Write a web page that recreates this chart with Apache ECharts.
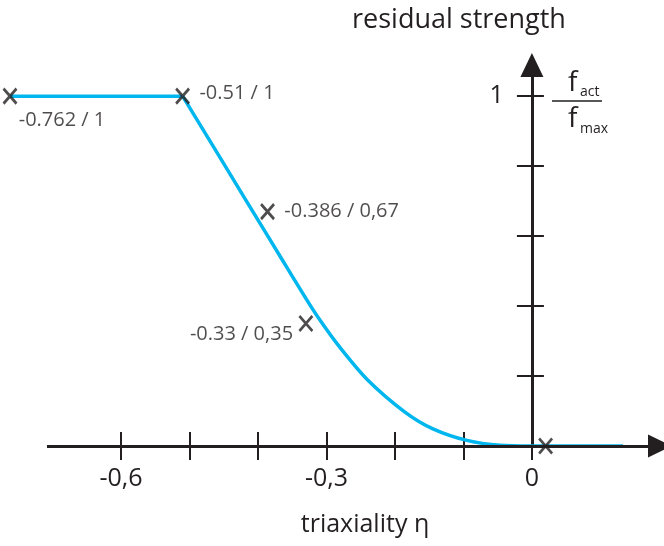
<!DOCTYPE html>
<html>
<head>
<meta charset="utf-8">
<script src="https://cdn.jsdelivr.net/npm/echarts@6/dist/echarts.min.js"></script>
<style>
  html, body { margin: 0; padding: 0; background: #ffffff; }
  #chart { width: 664px; height: 546px; }
</style>
</head>
<body>
<div id="chart"></div>
<script>
// Plateau of full residual strength
const plateauEta = [-0.762, -0.51];
const plateauStrength = [1, 1];

// Decreasing branch down to zero, then the flat tail on the η axis
const curveEta = [-0.51, -0.4657, -0.4161, -0.3679, -0.3285, -0.3095, -0.2832, -0.2409, -0.1854, -0.1445, -0.0949, -0.0467, 0, 0.133];
const curveStrength = [1, 0.858, 0.698, 0.543, 0.417, 0.360, 0.289, 0.191, 0.097, 0.049, 0.016, 0.002, 0, 0];

// Marked points with their annotations
const markerEta = [-0.762, -0.51, -0.386, -0.33, 0.02];
const markerStrength = [1, 1, 0.67, 0.35, 0];
const markerText = ['-0.762 / 1', '-0.51 / 1', '-0.386 / 0,67', '-0.33 / 0,35', ''];

// Axis ticks and labels
const xTicks = [-0.6, -0.5, -0.4, -0.3, -0.2, -0.1, 0];
const xTickLabels = [-0.6, -0.3, 0];
const yTicks = [0.2, 0.4, 0.6, 0.8, 1];
const yTickLabels = [1];

// Visible extent of the η axis line (start, end at the arrow)
const xAxisLineFrom = -0.708;
const xAxisLineTo = 0.187;

const ink = '#231f20';
const blue = '#00b6ee';
const font = 'Open Sans';

const toPairs = (xs, ys) => xs.map((x, i) => [x, ys[i]]);
const commaNumber = v => String(v).replace('.', ',');

// Label placement for each marker
const markerLabelStyle = [
  { position: 'inside', offset: [52, 24] },
  { position: 'right', distance: 9, offset: [0, -3] },
  { position: 'right', distance: 9, offset: [0, 0] },
  { position: 'left', distance: 5, offset: [0, 11] },
  { show: false }
];

const xRange = { min: -0.7766, max: 0.187 };
const yRange = { min: 0, max: 1.089 };

const tickStyle = { color: ink, width: 2 };

const chart = echarts.init(document.getElementById('chart'), null, { renderer: 'canvas' });

chart.setOption({
  animation: false,
  backgroundColor: '#ffffff',
  title: {
    text: 'residual strength',
    left: 347,
    top: 2,
    textStyle: { fontFamily: font, fontSize: 27, fontWeight: 'normal', color: ink }
  },
  grid: { left: 0, right: 4, top: 65, bottom: 100, containLabel: false },
  xAxis: [
    {
      type: 'value',
      position: 'bottom',
      min: xRange.min,
      max: xRange.max,
      name: 'triaxiality η',
      nameLocation: 'middle',
      nameGap: 66,
      nameTextStyle: { fontFamily: font, fontSize: 25, color: ink, padding: [0, 0, 0, 70] },
      axisLine: { show: false, onZero: true },
      axisTick: { show: true, inside: false, length: 14, customValues: xTicks, lineStyle: tickStyle },
      axisLabel: {
        show: true, customValues: xTickLabels, formatter: commaNumber,
        margin: 20, fontFamily: font, fontSize: 25, color: ink
      },
      splitLine: { show: false }
    },
    {
      type: 'value',
      position: 'bottom',
      min: xRange.min,
      max: xRange.max,
      axisLine: { show: false, onZero: true },
      axisTick: { show: true, inside: true, length: 14, customValues: xTicks, lineStyle: tickStyle },
      axisLabel: { show: false },
      splitLine: { show: false }
    }
  ],
  yAxis: [
    {
      type: 'value',
      position: 'left',
      min: yRange.min,
      max: yRange.max,
      axisLine: {
        show: true, onZero: true, onZeroAxisIndex: 0,
        symbol: ['none', 'triangle'], symbolSize: [23, 24],
        lineStyle: { color: ink, width: 3 }
      },
      axisTick: { show: true, inside: false, length: 15, customValues: yTicks, lineStyle: tickStyle },
      axisLabel: { show: false },
      splitLine: { show: false }
    },
    {
      type: 'value',
      position: 'left',
      min: yRange.min,
      max: yRange.max,
      axisLine: { show: false, onZero: true, onZeroAxisIndex: 0 },
      axisTick: { show: true, inside: true, length: 12, customValues: yTicks, lineStyle: tickStyle },
      axisLabel: { show: false },
      splitLine: { show: false }
    }
  ],
  graphic: [
    { type: 'text', left: 568, top: 69, style: { text: 'f', font: '28px "Open Sans"', fill: ink } },
    { type: 'text', left: 580, top: 85, style: { text: 'act', font: '14px "Open Sans"', fill: ink } },
    { type: 'line', shape: { x1: 552, y1: 101, x2: 602, y2: 101 }, style: { stroke: ink, lineWidth: 1.5 } },
    { type: 'text', left: 568, top: 105, style: { text: 'f', font: '28px "Open Sans"', fill: ink } },
    { type: 'text', left: 580, top: 122, style: { text: 'max', font: '14px "Open Sans"', fill: ink } }
  ],
  series: [
    {
      // η axis line with arrow head, and the tick label on the strength axis
      type: 'line',
      data: [],
      silent: true,
      z: 1,
      markLine: {
        silent: true,
        animation: false,
        symbol: ['none', 'triangle'],
        symbolSize: [23, 24],
        label: { show: false },
        lineStyle: { color: ink, width: 3, type: 'solid' },
        emphasis: { disabled: true },
        data: [[{ coord: [xAxisLineFrom, 0] }, { coord: [xAxisLineTo, 0] }]]
      },
      markPoint: {
        silent: true,
        animation: false,
        symbol: 'circle',
        symbolSize: 0,
        itemStyle: { color: 'transparent' },
        label: {
          show: true, position: 'left', distance: 28,
          fontFamily: font, fontSize: 25, color: ink,
          formatter: p => String(p.value)
        },
        data: yTickLabels.map(v => ({ coord: [0, v], value: v }))
      }
    },
    {
      type: 'line',
      data: toPairs(plateauEta, plateauStrength),
      showSymbol: false,
      lineStyle: { color: blue, width: 3.5 },
      z: 3
    },
    {
      type: 'line',
      data: toPairs(curveEta, curveStrength),
      smooth: 0.3,
      showSymbol: false,
      lineStyle: { color: blue, width: 3.5 },
      z: 3
    },
    {
      type: 'scatter',
      clip: false,
      symbol: 'path://M0,0L10,10M10,0L0,10',
      symbolSize: [13, 15],
      itemStyle: { color: 'transparent', borderColor: ink, borderWidth: 2.8 },
      z: 5,
      data: markerEta.map((e, i) => ({
        value: [e, markerStrength[i]],
        label: Object.assign({
          show: true,
          formatter: markerText[i],
          fontFamily: font,
          fontSize: 20,
          color: ink
        }, markerLabelStyle[i])
      }))
    }
  ]
});
</script>
</body>
</html>
